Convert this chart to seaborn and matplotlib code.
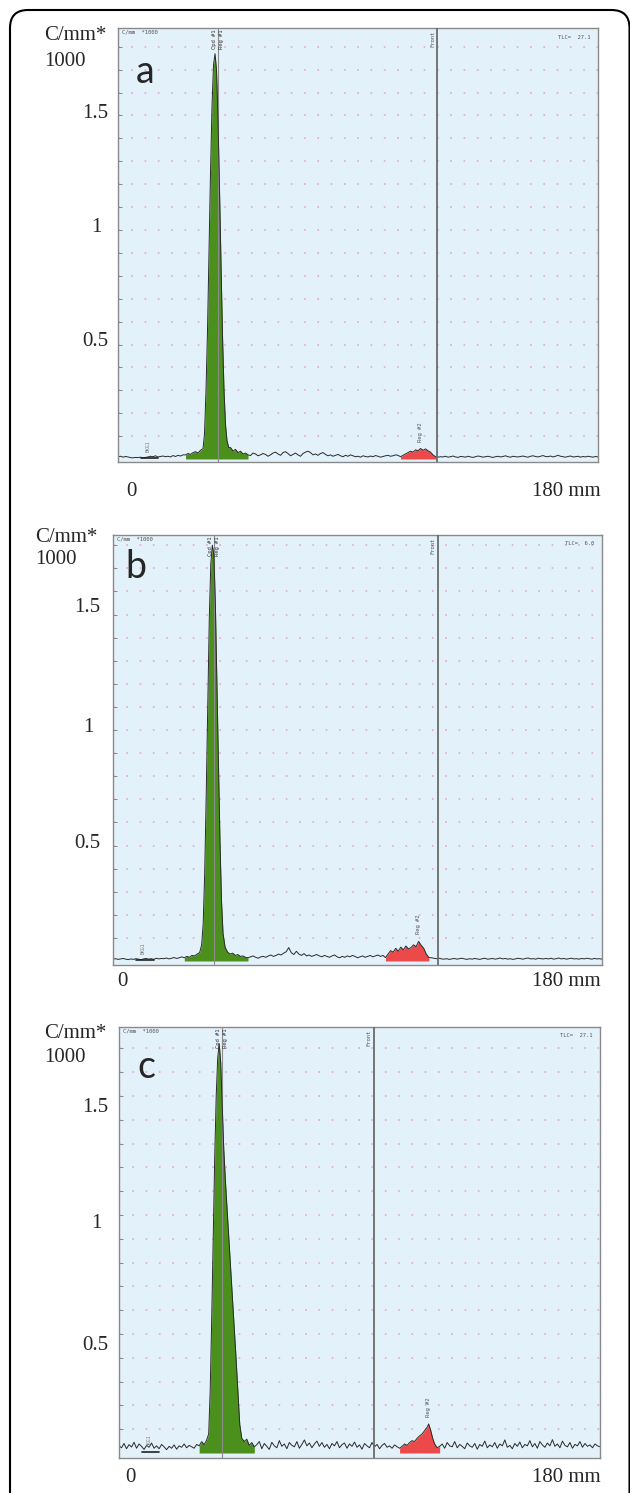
import numpy as np
import pandas as pd
import matplotlib
matplotlib.use("Agg")
import matplotlib.pyplot as plt
import matplotlib.transforms as mtransforms
from matplotlib.patches import FancyBboxPatch
import seaborn as sns

W, H = 630, 1493

# scan positions (scanner units) for the background trace
pos = np.arange(0, 193)

# ---- panel a (counts, C/mm) ----
base_a = [10, 12, 8, 11, 9, 6, 5, 7, 6, 8,
          5, 7, 9, 12, 10, 14, 9, 11, 13, 10,
          12, 9, 15, 11, 16, 13, 18, 22, 20, 26,
          24, 28, 30, 26, 32, 28, 30, 26, 28, 24,
          30, 26, 34, 28, 30, 24, 32, 20, 26, 22,
          18, 24, 20, 15, 26, 22, 14, 18, 24, 20,
          12, 18, 26, 30, 22, 16, 28, 32, 24, 14,
          20, 26, 18, 12, 24, 30, 34, 28, 18, 22,
          16, 24, 28, 20, 14, 18, 12, 16, 20, 14,
          10, 16, 12, 18, 14, 10, 12, 8, 14, 11,
          9, 13, 10, 15, 12, 8, 11, 14, 16, 12,
          14, 18, 16, 20, 22, 18, 20, 22, 24, 20,
          22, 20, 18, 16, 14, 12, 10, 12, 8, 10,
          9, 12, 8, 10, 13, 9, 7, 11, 10, 8,
          12, 9, 7, 10, 13, 11, 8, 10, 12, 9,
          7, 10, 12, 9, 11, 14, 10, 8, 12, 10,
          9, 11, 13, 10, 8, 12, 14, 11, 9, 12,
          15, 11, 10, 13, 9, 12, 16, 12, 10, 8,
          11, 13, 9, 10, 12, 8, 11, 9, 12, 10,
          8, 11, 9]
green_x_a = [27, 28, 29, 30, 31, 32, 33, 34, 34.6, 35.2, 35.8, 36.4, 37.0, 37.6, 38.2,
             38.8, 39.4, 40.0, 40.6, 41.2, 41.8, 42.4, 43.0, 43.6, 44.3, 45, 46, 47, 48,
             49, 50, 51, 52]
green_y_a = [18, 24, 20, 28, 32, 26, 38, 45, 110, 300, 560, 900, 1250, 1540, 1720,
             1770, 1700, 1480, 1180, 850, 540, 300, 150, 80, 50, 50, 35, 42, 28,
             34, 22, 26, 18]
red_x_a = [113, 114, 115, 116, 117, 118, 119, 120, 121, 122, 123, 124, 125, 126, 127]
red_y_a = [10, 16, 22, 28, 34, 30, 40, 36, 46, 38, 44, 36, 30, 18, 10]

# ---- panel b ----
base_b = [8, 10, 7, 9, 11, 8, 6, 9, 7, 10,
          8, 6, 9, 11, 8, 10, 7, 12, 9, 11,
          10, 13, 9, 12, 15, 11, 14, 18, 16, 20,
          22, 18, 25, 20, 24, 22, 26, 20, 24, 22,
          24, 20, 26, 22, 28, 24, 20, 26, 22, 18,
          22, 16, 20, 14, 18, 22, 16, 12, 18, 20,
          16, 22, 26, 20, 24, 30, 26, 34, 40, 58,
          36, 28, 42, 30, 24, 32, 22, 26, 20, 24,
          28, 22, 18, 24, 20, 16, 22, 26, 18, 14,
          20, 16, 22, 18, 24, 20, 14, 18, 22, 16,
          20, 24, 18, 22, 26, 20, 24, 22, 20, 24,
          30, 40, 50, 45, 55, 60, 50, 70, 80, 60,
          70, 50, 40, 24, 18, 14, 12, 10, 12, 9,
          8, 10, 7, 9, 11, 8, 10, 12, 9, 7,
          10, 8, 11, 9, 7, 10, 12, 8, 9, 11,
          8, 10, 13, 9, 11, 8, 10, 7, 9, 12,
          10, 8, 11, 13, 9, 10, 8, 12, 10, 9,
          11, 9, 12, 8, 10, 13, 9, 11, 8, 10,
          12, 9, 10, 8, 11, 9, 12, 10, 8, 11,
          9, 10, 8]
green_x_b = [28, 29, 30, 31, 32, 33, 34, 34.8, 35.4, 36.0, 36.6, 37.2, 37.8, 38.4, 39.0,
             39.6, 40.2, 40.8, 41.4, 42.0, 42.6, 43.2, 44, 45, 46, 47, 48, 49, 50, 51,
             52, 53]
green_y_b = [14, 20, 16, 24, 22, 30, 36, 70, 160, 380, 720, 1100, 1480, 1720, 1800,
             1760, 1540, 1200, 850, 520, 260, 120, 60, 38, 30, 34, 24, 28, 20, 22,
             16, 14]
red_x_b = [107, 108, 109, 110, 111, 112, 113, 114, 115, 116, 117, 118, 119, 120, 121,
           122, 123, 124]
red_y_b = [15, 30, 45, 38, 55, 42, 60, 48, 65, 52, 58, 70, 62, 85, 68, 55, 30, 15]

# ---- panel c ----
base_c = [30, 22, 40, 18, 35, 25, 45, 20, 38, 28,
          15, 32, 24, 42, 20, 30, 18, 36, 26, 14,
          28, 20, 34, 16, 30, 24, 38, 22, 32, 26,
          20, 36, 28, 40, 30, 45, 35, 50, 30, 40,
          30, 40, 35, 45, 30, 40, 35, 45, 30, 40,
          30, 42, 25, 38, 20, 35, 48, 18, 40, 28,
          15, 45, 30, 22, 52, 28, 38, 18, 44, 32,
          26, 48, 20, 36, 55, 30, 42, 22, 38, 50,
          28, 44, 24, 36, 18, 40, 30, 48, 22, 35,
          42, 20, 38, 28, 46, 24, 34, 16, 40, 30,
          22, 44, 26, 36, 18, 32, 40, 24, 30, 20,
          34, 26, 30, 28, 35, 40, 45, 50, 60, 70,
          80, 90, 100, 110, 90, 60, 40, 30, 25, 38,
          20, 44, 30, 26, 48, 22, 36, 28, 18, 42,
          30, 24, 40, 16, 36, 28, 50, 22, 34, 26,
          44, 20, 38, 30, 55, 24, 32, 18, 40, 28,
          46, 22, 36, 30, 52, 26, 40, 20, 48, 34,
          24, 42, 30, 56, 28, 38, 22, 50, 32, 26,
          44, 20, 36, 30, 48, 24, 40, 28, 34, 22,
          38, 30, 26]
green_x_c = [32, 33, 34, 35, 35.8, 36.4, 37.0, 37.6, 38.2, 38.8, 39.4, 40.0, 40.6, 41.2,
             41.8, 42.6, 43.4, 44.2, 45.0, 45.8, 46.6, 47.4, 48.2, 49, 50, 51, 52, 53, 54]
green_y_c = [30, 48, 35, 55, 80, 260, 560, 900, 1240, 1500, 1660, 1720, 1640, 1460,
             1280, 1120, 980, 840, 700, 560, 420, 270, 120, 62, 48, 58, 32, 44, 26]
red_x_c = [112, 113, 114, 115, 116, 117, 118, 119, 120, 121, 122, 123, 123.6, 124.4,
           125.2, 126, 127, 128]
red_y_c = [20, 28, 38, 32, 44, 52, 48, 62, 72, 80, 94, 108, 122, 96, 62, 38, 22, 28]

fronts = [127.6, 127.5, 101.6]
peak_marks = [40.0, 39.6, 41.0]
tlc_values = ["27.1", "6.0", "27.1"]
letters = ["a", "b", "c"]

# panel boxes in pixels: left, right, top, bottom, zero-line, px per unit
boxes = [(118, 598, 28, 462, 459, 229),
         (113, 602, 535, 965, 961, 231),
         (119, 600, 1027, 1458, 1453, 238)]

# outer labels (pixel rows)
label_rows = [dict(lx=44, rx=108, cmm=36, k=61, v15=113, v1=227, v05=341, bot=492, zero_x=131, letter=(145, 72)),
              dict(lx=35, rx=100, cmm=537, k=560, v15=608, v1=727, v05=843, bot=982, zero_x=122, letter=(136, 567)),
              dict(lx=44, rx=108, cmm=1034, k=1057, v15=1107, v1=1224, v05=1345, bot=1478, zero_x=130, letter=(146, 1067))]

sns.set_style("white")
plt.rcParams['font.family'] = ['DejaVu Sans']

fig = plt.figure(figsize=(W / 100, H / 100), dpi=100)


def fx(px):
    return px / W


def fy(py):
    return 1 - py / H


def profile(base, gx, gy, rx, ry):
    df = pd.DataFrame({'x': pos, 'y': base})
    keep = ~(df.x.between(min(gx), max(gx)) | df.x.between(min(rx), max(rx)))
    df = pd.concat([df[keep], pd.DataFrame({'x': gx, 'y': gy}),
                    pd.DataFrame({'x': rx, 'y': ry})]).sort_values('x')
    df['v'] = df['y'] / 1000
    return df


panels = [(base_a, green_x_a, green_y_a, red_x_a, red_y_a),
          (base_b, green_x_b, green_y_b, red_x_b, red_y_b),
          (base_c, green_x_c, green_y_c, red_x_c, red_y_c)]

serif = 'Liberation Serif'
mono = 'DejaVu Sans Mono'
fs = 15

for i, (base, gx, gy, rx, ry) in enumerate(panels):
    left, right, top, bottom, zero, scale = boxes[i]
    ax = fig.add_axes([fx(left), fy(bottom), (right - left) / W, (bottom - top) / H])
    ytop = (zero - top) / scale
    ybot = -(bottom - zero) / scale
    ax.set_xlim(0, 192)
    ax.set_ylim(ybot, ytop)
    ax.set_facecolor('#e3f1fb')

    # dotted pink grid rows
    for v in np.arange(0.1, ytop, 0.1):
        ax.axhline(v, color='#e6a0d2', lw=1.1, ls=(0, (1.1, 7.6)), zorder=0)

    df = profile(base, gx, gy, rx, ry)
    ax.fill_between(np.array(gx), 0, np.array(gy) / 1000, color='#4b8f1c', lw=0, zorder=1)
    ax.fill_between(np.array(rx), 0, np.array(ry) / 1000, color='#ec4a4a', lw=0, zorder=1)
    sns.lineplot(data=df, x='x', y='v', ax=ax, color='#2a2a2a', lw=0.7,
                 estimator=None, zorder=2)
    ax.set_xlabel('')
    ax.set_ylabel('')

    ax.axvline(fronts[i], color='#6a6a6a', lw=1.3, zorder=3)
    ax.axvline(peak_marks[i], color='#8c8c8c', lw=0.8, zorder=1.5)
    # background region bracket
    ax.plot([9, 16], [0.006, 0.006], color='#222222', lw=1.2)

    ax.set_xticks(np.arange(0, 193, 20))
    ax.set_xticks(np.arange(0, 193, 20 / 3), minor=True)
    ax.set_yticks(np.arange(0.1, ytop, 0.1))
    ax.tick_params(axis='x', which='major', direction='out', length=4, width=0.8,
                   color='#555555', labelbottom=False)
    ax.tick_params(axis='x', which='minor', direction='out', length=2, width=0.6,
                   color='#555555')
    ax.tick_params(axis='y', direction='in', length=3, width=0.6, color='#777777',
                   labelleft=False, left=True)
    for s in ax.spines.values():
        s.set_color('#8a8a8a')
        s.set_linewidth(1.0)

    # small instrument texts
    ax.text(0.008, 0.997, 'C/mm  *1000', transform=ax.transAxes, fontsize=4,
            family=mono, va='top', ha='left', color='#555555')
    ax.text(0.985, 0.985, 'TLC=  ' + tlc_values[i], transform=ax.transAxes, fontsize=4,
            family=mono, va='top', ha='right', color='#555555')
    ax.text(fronts[i] - 0.8, ytop - 0.01, 'Front', rotation=90, fontsize=4, family=mono,
            va='top', ha='right', color='#555555')
    ax.text(peak_marks[i] + 0.4, ytop - 0.005, 'Reg #1', rotation=90, fontsize=4,
            family=mono, va='top', ha='left', color='#333333')
    ax.text(peak_marks[i] - 0.4, ytop - 0.005, 'Cpd #1', rotation=90, fontsize=4,
            family=mono, va='top', ha='right', color='#333333')
    ax.text(rx[int(np.argmax(ry))], max(ry) / 1000 + 0.03, 'Reg #2', rotation=90,
            fontsize=4, family=mono, va='bottom', ha='center', color='#555555')
    ax.text(12, 0.03, 'BKG1', rotation=90, fontsize=3.5, family=mono, va='bottom',
            ha='center', color='#777777')

    # outer labels
    r = label_rows[i]
    fig.text(fx(r['lx']), fy(r['cmm']), 'C/mm*', family=serif, fontsize=fs, va='center', ha='left')
    fig.text(fx(r['lx']), fy(r['k']), '1000', family=serif, fontsize=fs, va='center', ha='left')
    fig.text(fx(r['rx']), fy(r['v15']), '1.5', family=serif, fontsize=fs, va='center', ha='right')
    fig.text(fx(r['rx'] - 6), fy(r['v1']), '1', family=serif, fontsize=fs, va='center', ha='right')
    fig.text(fx(r['rx']), fy(r['v05']), '0.5', family=serif, fontsize=fs, va='center', ha='right')
    fig.text(fx(r['zero_x']), fy(r['bot']), '0', family=serif, fontsize=fs, va='center', ha='center')
    fig.text(fx(601), fy(r['bot']), '180 mm', family=serif, fontsize=fs, va='center', ha='right')
    fig.text(fx(r['letter'][0]), fy(r['letter'][1]), letters[i], family='Lato', fontsize=27,
             va='center', ha='center')

# rounded outer frame
frame = FancyBboxPatch((10, -60), 619.5, H - 10 + 60,
                       boxstyle='round,pad=0,rounding_size=18',
                       transform=mtransforms.IdentityTransform(),
                       fill=False, ec='black', lw=1.5)
fig.patches.append(frame)

fig.savefig('out.png', dpi=100)
